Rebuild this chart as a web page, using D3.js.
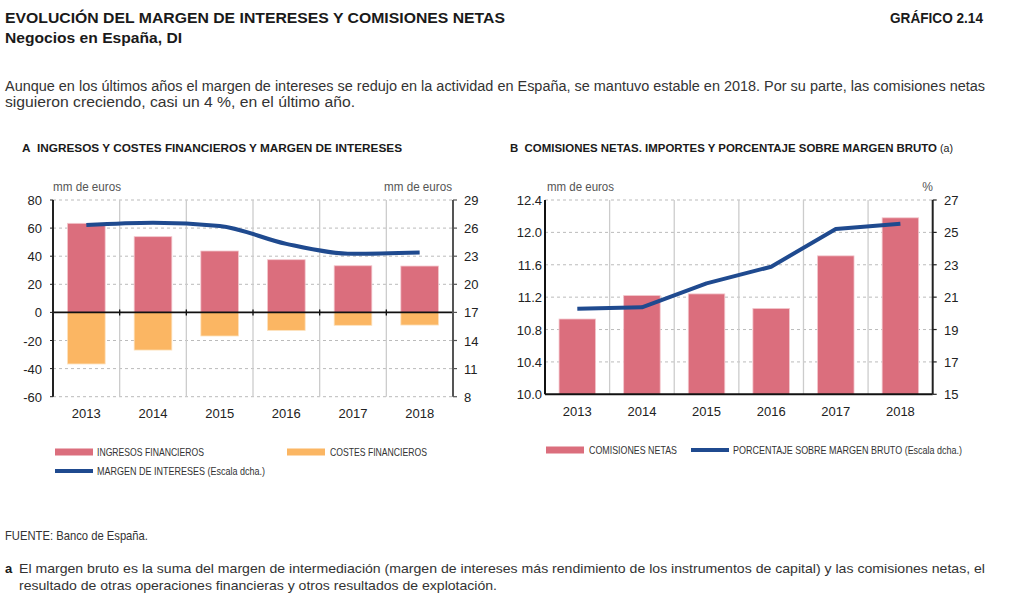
<!DOCTYPE html>
<html><head><meta charset="utf-8">
<script src="https://cdn.jsdelivr.net/npm/d3@7"></script>
<style>
html,body{margin:0;padding:0;background:#fff;}
svg{display:block;font-family:"Liberation Sans",Arial,sans-serif;}
</style></head>
<body>
<svg id="c" width="1024" height="613"></svg>
<script>
// ---------- DATA ----------
const years = ["2013","2014","2015","2016","2017","2018"];
const ingresos = [63.4, 53.9, 43.7, 37.5, 33.2, 33.0];
const costes = [-36.7, -26.8, -16.8, -12.8, -9.2, -9.0];
const margen = [26.33, 26.58, 26.23, 24.32, 23.25, 23.39];
const comisiones = [10.93, 11.22, 11.24, 11.06, 11.71, 12.18];
const porcentaje = [20.29, 20.37, 21.85, 22.88, 25.21, 25.54];
const ticksAL = [-60,-40,-20,0,20,40,60,80];
const ticksAR = [8,11,14,17,20,23,26,29];
const ticksBL = [10.0,10.4,10.8,11.2,11.6,12.0,12.4];
const ticksBR = [15,17,19,21,23,25,27];

const RED="#db6e7d", ORANGE="#fbb663", BLUE="#1f4a8f";
const svg = d3.select("#c");

function txt(x,y,s,o={}){
  const t = svg.append("text").attr("x",x).attr("y",y).text(s)
    .attr("font-size",o.size||13).attr("fill",o.fill||"#222")
    .attr("font-weight",o.weight||"normal")
    .attr("text-anchor",o.anchor||"start");
  if(o.family) t.attr("font-family",o.family);
  if(o.len) t.attr("textLength",o.len).attr("lengthAdjust","spacingAndGlyphs");
  return t;
}

// ---------- HEADER ----------
txt(5,23,"EVOLUCIÓN DEL MARGEN DE INTERESES Y COMISIONES NETAS",{size:15,weight:"bold",fill:"#1a1a1a",len:500});
txt(890,23,"GRÁFICO 2.14",{size:14,weight:"bold",fill:"#1a1a1a",len:93});
txt(5,43,"Negocios en España, DI",{size:15,weight:"bold",fill:"#1a1a1a",len:177});
txt(5,91,"Aunque en los últimos años el margen de intereses se redujo en la actividad en España, se mantuvo estable en 2018. Por su parte, las comisiones netas",{size:14,fill:"#333",len:980});
txt(5,107,"siguieron creciendo, casi un 4 %, en el último año.",{size:14,fill:"#333",len:350});

// ---------- PANEL TITLES ----------
txt(22,152,"A\u00A0\u00A0INGRESOS Y COSTES FINANCIEROS Y MARGEN DE INTERESES",{size:11.5,weight:"bold",fill:"#1a1a1a",len:380});
txt(510,152,"B\u00A0\u00A0COMISIONES NETAS. IMPORTES Y PORCENTAJE SOBRE MARGEN BRUTO",{size:11.5,weight:"bold",fill:"#1a1a1a",len:427});
txt(940,152,"(a)",{size:11.5,fill:"#1a1a1a",len:13});

// ---------- CHART A ----------
(function(){
  const x0=53,x1=453,yt=200,yb=396.7;
  const x = d3.scaleBand().domain(years).range([x0,x1]).paddingInner(0).paddingOuter(0);
  const yL = d3.scaleLinear().domain([-60,80]).range([yb,yt]);
  const yR = d3.scaleLinear().domain([8,29]).range([yb,yt]);
  const g = svg.append("g");
  g.selectAll(".hg").data(ticksAL.filter(d=>d!==0)).join("line")
    .attr("x1",x0).attr("x2",x1).attr("y1",d=>yL(d)).attr("y2",d=>yL(d))
    .attr("stroke","#bbb").attr("stroke-width",1).attr("stroke-dasharray","3,3");
  g.selectAll(".vg").data(years.slice(1)).join("line")
    .attr("x1",d=>x(d)).attr("x2",d=>x(d)).attr("y1",yt).attr("y2",yb)
    .attr("stroke","#ccc").attr("stroke-width",1.3);
  const bw = x.bandwidth()*0.565;
  g.selectAll(".ing").data(years).join("rect")
    .attr("x",(d)=>x(d)+(x.bandwidth()-bw)/2).attr("width",bw)
    .attr("y",(d,i)=>yL(ingresos[i])).attr("height",(d,i)=>yL(0)-yL(ingresos[i]))
    .attr("fill",RED).attr("stroke","#f3c7cd").attr("stroke-width",0.8);
  g.selectAll(".cos").data(years).join("rect")
    .attr("x",(d)=>x(d)+(x.bandwidth()-bw)/2).attr("width",bw)
    .attr("y",yL(0)).attr("height",(d,i)=>yL(costes[i])-yL(0))
    .attr("fill",ORANGE).attr("stroke","#fde2bd").attr("stroke-width",0.8);
  g.append("line").attr("x1",x0).attr("x2",x1).attr("y1",yL(0)).attr("y2",yL(0))
    .attr("stroke","#111").attr("stroke-width",1.8);
  g.selectAll(".zt").data(years.slice(1)).join("line")
    .attr("x1",d=>x(d)).attr("x2",d=>x(d)).attr("y1",yL(0)-3).attr("y2",yL(0)+3)
    .attr("stroke","#111").attr("stroke-width",1.3);
  g.append("line").attr("x1",x0).attr("x2",x0).attr("y1",yt).attr("y2",yb).attr("stroke","#222").attr("stroke-width",2);
  g.append("line").attr("x1",x1).attr("x2",x1).attr("y1",yt).attr("y2",yb).attr("stroke","#555").attr("stroke-width",2);
  g.selectAll(".lt").data(ticksAL).join("line").attr("x1",x0-3).attr("x2",x0).attr("y1",d=>yL(d)).attr("y2",d=>yL(d)).attr("stroke","#222").attr("stroke-width",1);
  g.selectAll(".rt").data(ticksAR).join("line").attr("x1",x1).attr("x2",x1+4).attr("y1",d=>yR(d)).attr("y2",d=>yR(d)).attr("stroke","#555").attr("stroke-width",1.2);
  const line = d3.line().x((d,i)=>x(years[i])+x.bandwidth()/2).y(d=>yR(d)).curve(d3.curveMonotoneX);
  g.append("path").datum(margen).attr("d",line).attr("fill","none").attr("stroke",BLUE)
    .attr("stroke-width",4).attr("stroke-linecap","butt").attr("stroke-linejoin","round");
  g.selectAll(".ll").data(ticksAL).join("text").attr("x",42).attr("y",d=>yL(d)+5)
    .attr("text-anchor","end").attr("font-size",13).attr("fill","#222").text(d=>d);
  g.selectAll(".rl").data(ticksAR).join("text").attr("x",464).attr("y",d=>yR(d)+5)
    .attr("text-anchor","start").attr("font-size",13).attr("fill","#222").text(d=>d);
  g.selectAll(".xl").data(years).join("text").attr("x",d=>x(d)+x.bandwidth()/2).attr("y",418)
    .attr("text-anchor","middle").attr("font-size",13).attr("fill","#222").text(d=>d);
  txt(53,191,"mm de euros",{size:12,fill:"#555",len:68});
  txt(452,191,"mm de euros",{size:12,fill:"#555",anchor:"end",len:68});
})();

// ---------- CHART B ----------
(function(){
  const x0=545,x1=932.7,yt=200,yb=394.3;
  const x = d3.scaleBand().domain(years).range([x0,x1]).paddingInner(0).paddingOuter(0);
  const yL = d3.scaleLinear().domain([10,12.4]).range([yb,yt]);
  const yR = d3.scaleLinear().domain([15,27]).range([yb,yt]);
  const g = svg.append("g");
  g.selectAll(".hg").data(ticksBL.filter(d=>d!==10)).join("line")
    .attr("x1",x0).attr("x2",x1).attr("y1",d=>yL(d)).attr("y2",d=>yL(d))
    .attr("stroke","#bbb").attr("stroke-width",1).attr("stroke-dasharray","3,3");
  g.selectAll(".vg").data(years.slice(1)).join("line")
    .attr("x1",d=>x(d)).attr("x2",d=>x(d)).attr("y1",yt).attr("y2",yb)
    .attr("stroke","#ccc").attr("stroke-width",1.3);
  const bw = x.bandwidth()*0.565;
  g.selectAll(".com").data(years).join("rect")
    .attr("x",(d)=>x(d)+(x.bandwidth()-bw)/2).attr("width",bw)
    .attr("y",(d,i)=>yL(comisiones[i])).attr("height",(d,i)=>yb-yL(comisiones[i]))
    .attr("fill",RED).attr("stroke","#f3c7cd").attr("stroke-width",0.8);
  g.append("line").attr("x1",x0).attr("x2",x1).attr("y1",yb).attr("y2",yb).attr("stroke","#111").attr("stroke-width",2);
  g.append("line").attr("x1",x0).attr("x2",x0).attr("y1",yt).attr("y2",yb).attr("stroke","#111").attr("stroke-width",2);
  g.append("line").attr("x1",x1).attr("x2",x1).attr("y1",yt).attr("y2",yb).attr("stroke","#222").attr("stroke-width",2);
  g.selectAll(".rt").data(ticksBR).join("line").attr("x1",x1).attr("x2",x1+4).attr("y1",d=>yR(d)).attr("y2",d=>yR(d)).attr("stroke","#222").attr("stroke-width",1.2);
  const line = d3.line().x((d,i)=>x(years[i])+x.bandwidth()/2).y(d=>yR(d)).curve(d3.curveLinear);
  g.append("path").datum(porcentaje).attr("d",line).attr("fill","none").attr("stroke",BLUE)
    .attr("stroke-width",4).attr("stroke-linejoin","round");
  g.selectAll(".ll").data(ticksBL).join("text").attr("x",542).attr("y",d=>yL(d)+5)
    .attr("text-anchor","end").attr("font-size",13).attr("fill","#222").text(d=>d.toFixed(1));
  g.selectAll(".rl").data(ticksBR).join("text").attr("x",944).attr("y",d=>yR(d)+5)
    .attr("text-anchor","start").attr("font-size",13).attr("fill","#222").text(d=>d);
  g.selectAll(".xl").data(years).join("text").attr("x",d=>x(d)+x.bandwidth()/2).attr("y",416)
    .attr("text-anchor","middle").attr("font-size",13).attr("fill","#222").text(d=>d);
  txt(547,191,"mm de euros",{size:12,fill:"#555",len:67});
  txt(933,191,"%",{size:12,fill:"#555",anchor:"end"});
})();

// ---------- LEGENDS ----------
function legRect(x,y,c,h){ svg.append("rect").attr("x",x).attr("y",y-h/2).attr("width",38).attr("height",h).attr("fill",c); }
const LF = {size:11.5,fill:"#333",family:"'Liberation Sans Narrow','Liberation Sans',Arial,sans-serif"};
legRect(55,452,RED,7);   txt(97,456,"INGRESOS FINANCIEROS",Object.assign({len:107},LF));
legRect(287,452,ORANGE,7); txt(330,456,"COSTES FINANCIEROS",Object.assign({len:97},LF));
legRect(55,471,BLUE,4);  txt(97,475,"MARGEN DE INTERESES (Escala dcha.)",Object.assign({len:168},LF));
legRect(546,450,RED,7);  txt(589,454,"COMISIONES NETAS",Object.assign({len:88},LF));
legRect(691,450,BLUE,4); txt(733,454,"PORCENTAJE SOBRE MARGEN BRUTO (Escala dcha.)",Object.assign({},LF,{len:229,size:10.5}));

// ---------- FOOTER ----------
txt(5,540,"FUENTE: Banco de España.",{size:13,fill:"#333",len:143});
txt(5,573,"a",{size:13,weight:"bold",fill:"#1a1a1a"});
txt(19,573,"El margen bruto es la suma del margen de intermediación (margen de intereses más rendimiento de los instrumentos de capital) y las comisiones netas, el",{size:13,fill:"#333",len:966});
txt(19,590,"resultado de otras operaciones financieras y otros resultados de explotación.",{size:13,fill:"#333",len:478});
</script>
</body></html>
